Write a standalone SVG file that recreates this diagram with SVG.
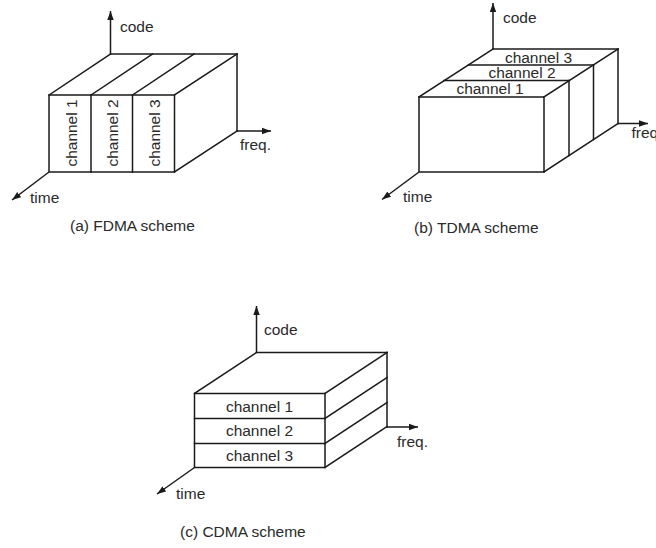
<svg xmlns="http://www.w3.org/2000/svg" width="656" height="548" viewBox="0 0 656 548">
<style>
  .ln{stroke:#1a1a1a;stroke-width:1.5;fill:none;stroke-linecap:square;stroke-linejoin:miter}
  .ax{stroke:#1a1a1a;stroke-width:1.5;fill:none;marker-end:url(#arr)}
  text{font-family:"Liberation Sans",Arial,Helvetica,sans-serif;font-size:15.5px;fill:#2a2a2a}
  .mid{text-anchor:middle}
</style>
<defs>
  <marker id="arr" markerUnits="userSpaceOnUse" markerWidth="10" markerHeight="8" refX="9" refY="4" orient="auto">
    <path d="M0,0.8 L9,4 L0,7.2 Z" fill="#1a1a1a"/>
  </marker>
</defs>
<rect width="656" height="548" fill="#fff"/>

<!-- (a) FDMA -->
<g id="fdma">
  <g id="fdma-axes">
    <line class="ax" x1="110.5" y1="54" x2="110.5" y2="11"/>
    <line class="ax" x1="237" y1="131" x2="271" y2="131"/>
    <line class="ax" x1="49" y1="172" x2="12" y2="200"/>
  </g>
  <g id="fdma-box">
    <rect class="ln" x="49" y="95" width="125.5" height="77"/>
    <line class="ln" x1="91" y1="95" x2="91" y2="172"/>
    <line class="ln" x1="132.5" y1="95" x2="132.5" y2="172"/>
    <line class="ln" x1="49" y1="95" x2="110.5" y2="54"/>
    <line class="ln" x1="91" y1="95" x2="152.5" y2="54"/>
    <line class="ln" x1="132.5" y1="95" x2="194" y2="54"/>
    <line class="ln" x1="174.5" y1="95" x2="237" y2="54"/>
    <line class="ln" x1="110.5" y1="54" x2="237" y2="54"/>
    <line class="ln" x1="237" y1="54" x2="237" y2="131"/>
    <line class="ln" x1="174.5" y1="172" x2="237" y2="131"/>
  </g>
  <text x="120" y="32">code</text>
  <text x="240" y="150">freq.</text>
  <text x="30" y="203">time</text>
  <text class="mid" transform="translate(76.5,133) rotate(-90)">channel 1</text>
  <text class="mid" transform="translate(118,133) rotate(-90)">channel 2</text>
  <text class="mid" transform="translate(159.5,133) rotate(-90)">channel 3</text>
  <text x="70" y="231">(a) FDMA scheme</text>
</g>

<!-- (b) TDMA -->
<g id="tdma">
  <g id="tdma-axes">
    <line class="ax" x1="493" y1="49" x2="493" y2="3"/>
    <line class="ax" x1="618" y1="123.5" x2="648" y2="123.5"/>
    <line class="ax" x1="419" y1="172" x2="382" y2="199.5"/>
  </g>
  <g id="tdma-box">
    <rect class="ln" x="419" y="97" width="125" height="75"/>
    <line class="ln" x1="419" y1="97" x2="493" y2="49"/>
    <line class="ln" x1="544" y1="97" x2="618" y2="49"/>
    <line class="ln" x1="493" y1="49" x2="618" y2="49"/>
    <line class="ln" x1="444" y1="80.5" x2="569" y2="80.5"/>
    <line class="ln" x1="468.5" y1="65" x2="593.5" y2="65"/>
    <line class="ln" x1="569" y1="80.5" x2="569" y2="155.5"/>
    <line class="ln" x1="593.5" y1="65" x2="593.5" y2="139.5"/>
    <line class="ln" x1="618" y1="49" x2="618" y2="123.5"/>
    <line class="ln" x1="544" y1="172" x2="618" y2="123.5"/>
  </g>
  <text x="503" y="23">code</text>
  <text x="631.5" y="138">freq.</text>
  <text x="403" y="202">time</text>
  <text class="mid" x="538.5" y="62.5">channel 3</text>
  <text class="mid" x="522" y="77.5">channel 2</text>
  <text class="mid" x="490" y="94">channel 1</text>
  <text x="414" y="233">(b) TDMA scheme</text>
</g>

<!-- (c) CDMA -->
<g id="cdma">
  <g id="cdma-axes">
    <line class="ax" x1="256.5" y1="352.5" x2="256.5" y2="306"/>
    <line class="ax" x1="387" y1="427" x2="418" y2="427"/>
    <line class="ax" x1="194.5" y1="467.5" x2="157" y2="494"/>
  </g>
  <g id="cdma-box">
    <rect class="ln" x="194.5" y="393.5" width="130.5" height="74"/>
    <line class="ln" x1="194.5" y1="418.5" x2="325" y2="418.5"/>
    <line class="ln" x1="194.5" y1="443.5" x2="325" y2="443.5"/>
    <line class="ln" x1="194.5" y1="393.5" x2="256.5" y2="352.5"/>
    <line class="ln" x1="325" y1="393.5" x2="387" y2="352.5"/>
    <line class="ln" x1="256.5" y1="352.5" x2="387" y2="352.5"/>
    <line class="ln" x1="325" y1="418.5" x2="387" y2="377.5"/>
    <line class="ln" x1="325" y1="443.5" x2="387" y2="402.5"/>
    <line class="ln" x1="325" y1="467.5" x2="387" y2="426.5"/>
    <line class="ln" x1="387" y1="352.5" x2="387" y2="427"/>
  </g>
  <text x="264" y="335">code</text>
  <text x="397" y="447">freq.</text>
  <text x="176" y="499">time</text>
  <text class="mid" x="259.5" y="412">channel 1</text>
  <text class="mid" x="259.5" y="436">channel 2</text>
  <text class="mid" x="259.5" y="461">channel 3</text>
  <text x="180" y="537">(c) CDMA scheme</text>
</g>
</svg>
